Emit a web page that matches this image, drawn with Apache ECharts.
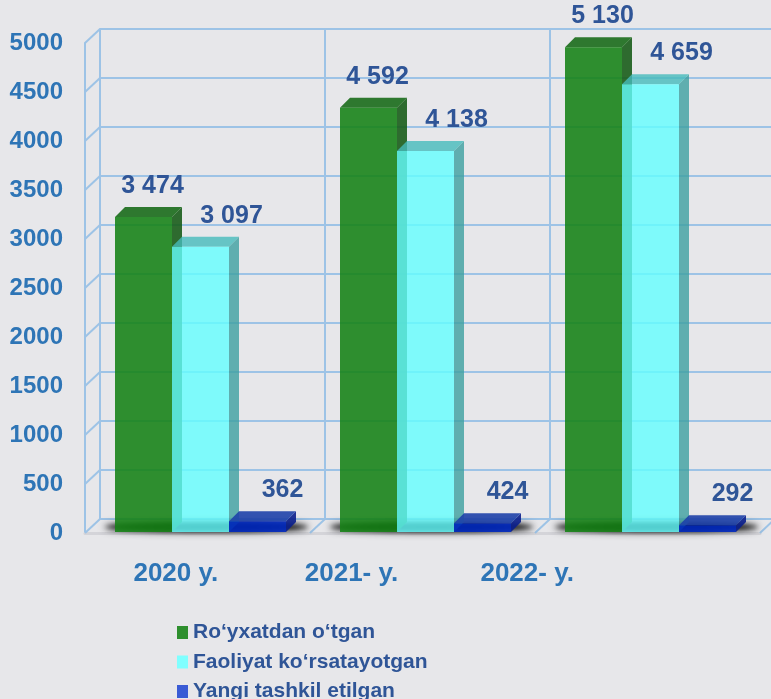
<!DOCTYPE html>
<html><head><meta charset="utf-8">
<script src="https://cdn.jsdelivr.net/npm/echarts@6/dist/echarts.min.js"></script>
<style>html,body{margin:0;padding:0;background:#E7E7EA;}#c{width:771px;height:699px;}</style>
</head><body><div id="c"></div>
<script>
// ---- data ----
const categories = ['2020 y.', '2021- y.', '2022- y.'];
const seriesNames = ['Ro‘yxatdan o‘tgan', 'Faoliyat ko‘rsatayotgan', 'Yangi tashkil etilgan'];
// numbers printed on the bars
const registeredLabels = [3474, 4592, 5130];
const activeLabels = [3097, 4138, 4659];
const newLabels = [362, 424, 292];
// heights at which the bars are drawn in the picture (read against the axis)
const registeredHeights = [3224, 4340, 4956];
const activeHeights = [2922, 3898, 4578];
const newHeights = [120, 100, 80];
// value axis ticks
const yMin = 0, yMax = 5000, yInterval = 500;

// ---- style ----
const FONT = "'Liberation Sans', Arial, sans-serif";
const GRID_LINE = '#9DC3E6';
const BAR_W_RATIO = 57 / 225;
const GROUP_SHIFT = 3;
const DEPTH = 10;
const WALL_DX = 15, WALL_DY = 14;
const LABEL_DX = [9, 31, 25];
const LABEL_DY = 21;
const FACE = [
  {front: 'rgba(20,130,20,0.88)', top: 'rgba(20,105,20,0.88)', side: 'rgba(20,90,20,0.88)'},
  {front: 'rgba(100,255,255,0.8)', top: 'rgba(70,187,187,0.8)', side: 'rgba(61,160,160,0.8)'},
  {front: 'rgba(0,40,190,0.9)', top: 'rgba(30,65,170,0.9)', side: 'rgba(10,30,140,0.9)'}
];
const LEGEND_COLORS = ['#2E8F2E', '#80FFFF', '#3A5BD5'];

const heights = [registeredHeights, activeHeights, newHeights];
const labels = [registeredLabels, activeLabels, newLabels];
const tickValues = [];
for (let v = yMin; v <= yMax; v += yInterval) tickValues.push(v);

function fmt(v) { return String(v).replace(/\B(?=(\d{3})+(?!\d))/g, ' '); }

function makeBar(s) {
  return function (params, api) {
    const i = api.value(0);
    const base = api.coord([i, 0]);
    const top = api.coord([i, api.value(1)]);
    const band = api.size([1, 0])[0];
    const w = band * BAR_W_RATIO;
    const x0 = base[0] - 1.5 * w + GROUP_SHIFT + s * w;
    const x1 = x0 + w;
    const yT = top[1], yB = base[1] - 1, d = DEPTH, f = FACE[s];
    return {type: 'group', children: [
      {type: 'polygon', shape: {points: [[x1, yT], [x1 + d, yT - d], [x1 + d, yB - d], [x1, yB]]}, style: {fill: f.side}},
      {type: 'polygon', shape: {points: [[x0, yT], [x0 + d, yT - d], [x1 + d, yT - d], [x1, yT]]}, style: {fill: f.top}},
      {type: 'rect', shape: {x: x0, y: yT, width: w, height: yB - yT}, style: {fill: f.front}},
      {type: 'text', style: {text: fmt(api.value(2)), x: (x0 + x1) / 2 + LABEL_DX[s], y: yT - d - LABEL_DY,
        fill: '#2F5597', font: 'bold 25px ' + FONT, align: 'center', verticalAlign: 'middle'}}
    ]};
  };
}

const barSeries = seriesNames.map((name, s) => ({
  type: 'custom', name, xAxisIndex: 1, yAxisIndex: 1, z: 4,
  itemStyle: {color: LEGEND_COLORS[s]},
  encode: {x: 0, y: 1},
  data: categories.map((c, i) => [i, heights[s][i], labels[s][i]]),
  renderItem: makeBar(s)
}));

const wallSeries = {
  type: 'custom', xAxisIndex: 1, yAxisIndex: 1, silent: true, z: 1,
  encode: {x: 0, y: 1},
  data: tickValues.map(v => [0, v]),
  renderItem(params, api) {
    const p = api.coord([0, api.value(1)]);
    const band = api.size([1, 0])[0];
    const x = p[0] - band / 2;
    return {type: 'line', shape: {x1: x, y1: p[1], x2: x + WALL_DX, y2: p[1] - WALL_DY},
      style: {stroke: GRID_LINE, lineWidth: 2}};
  }
};
const floorSeries = {
  type: 'custom', xAxisIndex: 1, yAxisIndex: 1, silent: true, z: 1,
  encode: {x: 0, y: 1},
  data: [1, 2, 3].map(k => [0, 0, k]),
  renderItem(params, api) {
    const p = api.coord([0, 0]);
    const band = api.size([1, 0])[0];
    const x = p[0] - band / 2 + api.value(2) * band;
    return {type: 'line', shape: {x1: x, y1: p[1], x2: x + WALL_DX, y2: p[1] - WALL_DY},
      style: {stroke: GRID_LINE, lineWidth: 2}};
  }
};
const SHADOW_SHIFT = 3000;
const shadowSeries = {
  type: 'custom', xAxisIndex: 1, yAxisIndex: 1, silent: true, z: 2,
  encode: {x: 0, y: 1},
  data: categories.map((c, i) => [i, 0]),
  renderItem(params, api) {
    const p = api.coord([api.value(0), 0]);
    const band = api.size([1, 0])[0];
    const w = band * BAR_W_RATIO;
    const mk = (blur, alpha) => ({type: 'ellipse',
      shape: {cx: p[0] + GROUP_SHIFT + 6, cy: p[1] - 6 - SHADOW_SHIFT, rx: 1.5 * w + 16, ry: 4},
      style: {fill: '#000', shadowBlur: blur, shadowOffsetY: SHADOW_SHIFT, shadowColor: 'rgba(0,0,0,' + alpha + ')'}});
    return {type: 'group', children: [mk(9, 0.9), mk(5, 0.9)]};
  }
};

const chart = echarts.init(document.getElementById('c'), null, {renderer: 'canvas'});
chart.setOption({
  backgroundColor: '#E7E7EA',
  animation: false,
  grid: [
    {left: 100, top: 29, width: 675, height: 490, outerBoundsMode: 'none'},
    {left: 85, top: 43, width: 675, height: 490, outerBoundsMode: 'none'},
    {left: 88, top: 43, width: 527, height: 490, outerBoundsMode: 'none'}
  ],
  xAxis: [
    {type: 'category', gridIndex: 0, data: categories, axisLabel: {show: false}, axisTick: {show: false},
      axisLine: {show: false}, splitLine: {show: true, interval: 0, lineStyle: {color: GRID_LINE, width: 2}}},
    {type: 'category', gridIndex: 1, data: categories, axisLabel: {show: false}, axisTick: {show: false},
      axisLine: {show: true, lineStyle: {color: '#D4D4D9', width: 3}}, splitLine: {show: false}},
    {type: 'category', gridIndex: 2, data: categories, axisTick: {show: false}, axisLine: {show: false},
      splitLine: {show: false},
      axisLabel: {show: true, interval: 0, margin: 28, color: '#2E75B6', fontSize: 26, fontWeight: 'bold', fontFamily: FONT}}
  ],
  yAxis: [
    {type: 'value', gridIndex: 0, min: yMin, max: yMax, interval: yInterval, axisLabel: {show: false},
      axisTick: {show: false}, axisLine: {show: true, lineStyle: {color: GRID_LINE, width: 2}},
      splitLine: {show: true, lineStyle: {color: GRID_LINE, width: 2}}},
    {type: 'value', gridIndex: 1, min: yMin, max: yMax, interval: yInterval, axisTick: {show: false},
      axisLine: {show: true, lineStyle: {color: GRID_LINE, width: 2}}, splitLine: {show: false},
      axisLabel: {show: true, margin: 22, color: '#2E75B6', fontSize: 24, fontWeight: 'bold', fontFamily: FONT,
        formatter: v => String(v)}},
    {type: 'value', gridIndex: 2, show: false, min: yMin, max: yMax}
  ],
  legend: {
    orient: 'vertical', left: 177, top: 622, padding: 0, itemWidth: 11, itemHeight: 13, itemGap: 8.5,
    height: 120, icon: 'rect', selectedMode: false,
    textStyle: {color: '#2F5597', fontSize: 21, fontWeight: 'bold', fontFamily: FONT, lineHeight: 20},
    data: seriesNames.map((n, s) => ({name: n, itemStyle: {color: LEGEND_COLORS[s]}}))
  },
  series: [wallSeries, floorSeries, shadowSeries].concat(barSeries)
});
</script></body></html>
